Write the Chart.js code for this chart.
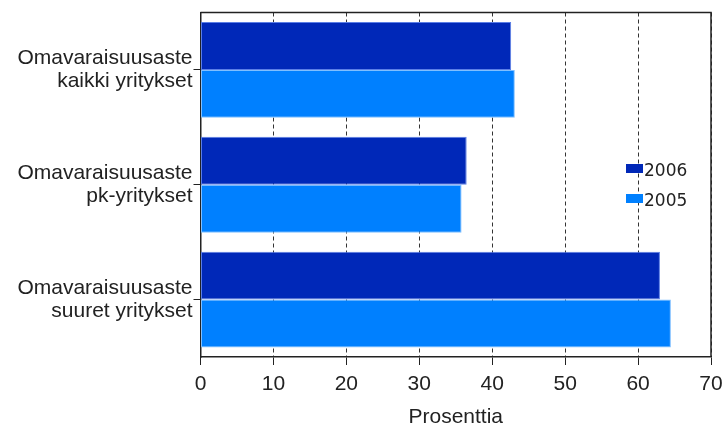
<!DOCTYPE html>
<html>
<head>
<meta charset="utf-8">
<script src="https://cdn.jsdelivr.net/npm/chart.js@4/dist/chart.umd.min.js"></script>
<style>
  html, body { margin: 0; padding: 0; background: #fff; }
  #wrap { width: 722px; height: 428px; }
</style>
</head>
<body>
<div id="wrap"><canvas id="equityRatio" width="722" height="428"></canvas></div>
<script>
var categories = [
    ["Omavaraisuusaste", "kaikki yritykset"],
    ["Omavaraisuusaste", "pk-yritykset"],
    ["Omavaraisuusaste", "suuret yritykset"]
];
var seriesLabels = ["2006", "2005"];
var values2006 = [42.6, 36.5, 63.0];
var values2005 = [43.1, 35.8, 64.5];
var axisTitle = "Prosenttia";
var xMin = 0, xMax = 70, xStep = 10;

var textColor = "#222";
var darkBlue = "#0028b8";
var lightBlue = "#0080ff";

// frame on top/right + legend inside the plot area, drawn by hand
var insideLegend = {
    id: "insideLegend",
    afterDraw: function(chart){
        var ctx = chart.ctx;
        var a = chart.chartArea;
        ctx.save();
        ctx.strokeStyle = textColor;
        ctx.lineWidth = 1.5;
        ctx.beginPath();
        ctx.moveTo(a.left, a.top);
        ctx.lineTo(a.right, a.top);
        ctx.lineTo(a.right, a.bottom);
        ctx.stroke();

        ctx.font = "17px 'DejaVu Sans'";
        ctx.textBaseline = "middle";
        ctx.textAlign = "left";
        chart.data.datasets.forEach(function(ds, i){
            var y = 168.5 + i * 30;
            ctx.fillStyle = ds.backgroundColor;
            ctx.fillRect(626, y - 4.5, 17, 9);
            ctx.fillStyle = textColor;
            ctx.fillText(ds.label, 644, y + 3);
        });
        ctx.restore();
    }
};

var ctx = document.getElementById("equityRatio").getContext("2d");
var chart = new Chart(ctx, {
    type: "bar",
    data: {
        labels: categories,
        datasets: [
            {
                label: seriesLabels[0],
                data: values2006,
                backgroundColor: darkBlue,
                borderColor: "#5a7ee6",
                borderWidth: 1,
                borderSkipped: false
            },
            {
                label: seriesLabels[1],
                data: values2005,
                backgroundColor: lightBlue,
                borderColor: "#7fbfff",
                borderWidth: 1,
                borderSkipped: false
            }
        ]
    },
    options: {
        indexAxis: "y",
        responsive: false,
        animation: false,
        layout: { padding: { top: 12.5, right: 11, left: 0, bottom: 0 } },
        datasets: { bar: { categoryPercentage: 0.835, barPercentage: 1 } },
        plugins: {
            legend: { display: false },
            tooltip: { enabled: false }
        },
        scales: {
            x: {
                min: xMin,
                max: xMax,
                ticks: {
                    stepSize: xStep,
                    color: textColor,
                    padding: 7,
                    font: { family: "'Liberation Sans'", size: 21 }
                },
                grid: {
                    color: "#333",
                    lineWidth: 1,
                    tickLength: 8,
                    tickColor: textColor,
                    tickBorderDash: []
                },
                border: { display: true, color: textColor, width: 1.5, dash: [4, 3] },
                title: {
                    display: true,
                    text: axisTitle,
                    color: textColor,
                    padding: { top: 0, bottom: -2 },
                    font: { family: "'Liberation Sans'", size: 21 }
                },
                afterFit: function(scale){
                    scale.height = 71;
                    scale.paddingLeft = 0;
                    scale.paddingRight = 0;
                }
            },
            y: {
                ticks: {
                    color: textColor,
                    padding: 1,
                    font: { family: "'Liberation Sans'", size: 21, lineHeight: 1.1 }
                },
                grid: {
                    drawOnChartArea: false,
                    offset: false,
                    tickLength: 7,
                    tickColor: textColor
                },
                border: { display: true, color: textColor, width: 1.5 },
                afterFit: function(scale){
                    scale.width = 200.5;
                    scale.paddingTop = 0;
                    scale.paddingBottom = 0;
                }
            }
        }
    },
    plugins: [insideLegend]
});
</script>
</body>
</html>
